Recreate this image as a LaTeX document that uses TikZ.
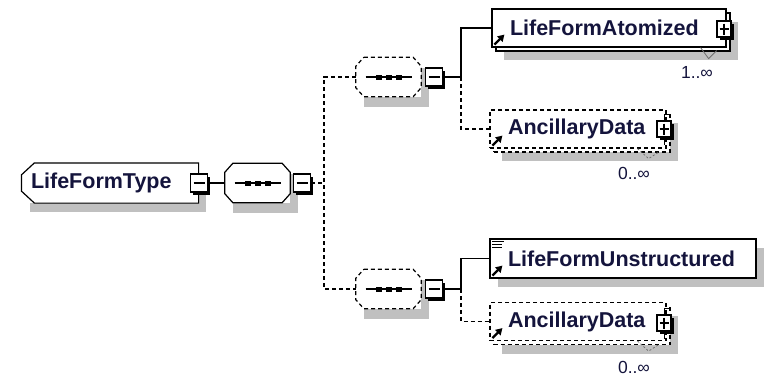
\documentclass[tikz,border=0pt]{standalone}
\usepackage{fontspec}
\setmainfont{Liberation Sans}
\usepackage{tikz}
\usetikzlibrary{positioning,shadows,arrows.meta}
\hyphenpenalty=10000
\definecolor{ink}{RGB}{20,20,60}
\definecolor{shade}{RGB}{192,192,192}
\definecolor{vmark}{RGB}{110,110,110}

% outline of a compositor: box with all four corners cut
\newcommand{\seqoutline}[2]{\draw[line width=1.2pt,#2] ([xshift=8pt]#1.north west) -- ([xshift=-8pt]#1.north east)
  -- ([yshift=-9pt]#1.north east) -- ([yshift=9pt]#1.south east) -- ([xshift=-8pt]#1.south east)
  -- ([xshift=8pt]#1.south west) -- ([yshift=9pt]#1.south west) -- ([yshift=-9pt]#1.north west) -- cycle;}

\tikzset{
  elem/.style={draw, fill=white, line width=1.2pt, inner xsep=18pt, inner ysep=0pt,
    minimum height=38pt, align=left, text=ink,
    font=\fontsize{21.5}{24}\selectfont\bfseries},
  oneshadow/.style={general shadow={fill=shade, shadow xshift=8pt, shadow yshift=-9pt}},
  twin/.style={general shadow={fill=shade, shadow xshift=12pt, shadow yshift=-13pt},
    general shadow={draw, fill=white, line width=1.2pt, shadow xshift=4pt, shadow yshift=-4pt, #1}},
  twin/.default={solid},
  opt/.style={dash pattern=on 4pt off 3pt},
  seqbox/.style={fill=white, minimum width=65pt, minimum height=39pt, inner sep=0pt,
    general shadow={fill=shade, shadow xshift=8pt, shadow yshift=-10pt},
    path picture={
      \draw[black, solid, line width=1.2pt] ([xshift=-23pt]path picture bounding box.center) -- ([xshift=23pt]path picture bounding box.center);
      \fill[black] ([xshift=-10pt]path picture bounding box.center) +(-3pt,-2.5pt) rectangle +(3pt,2.5pt);
      \fill[black] (path picture bounding box.center) +(-3pt,-2.5pt) rectangle +(3pt,2.5pt);
      \fill[black] ([xshift=10pt]path picture bounding box.center) +(-3pt,-2.5pt) rectangle +(3pt,2.5pt);
    }},
  minusbox/.style={draw, solid, fill=white, line width=1.2pt, minimum width=17pt, minimum height=18pt,
    inner sep=0pt, general shadow={fill=black, shadow xshift=2.5pt, shadow yshift=-2.5pt},
    path picture={\draw[line width=1.2pt] ([xshift=3pt]path picture bounding box.west) -- ([xshift=-3pt]path picture bounding box.east);}},
  plusbox/.style={draw, solid, fill=white, line width=1.2pt, minimum width=14pt, minimum height=16pt,
    inner sep=0pt, general shadow={fill=black, shadow xshift=2.5pt, shadow yshift=-2.5pt},
    path picture={\draw[line width=1.2pt] ([xshift=2.5pt]path picture bounding box.west) -- ([xshift=-2.5pt]path picture bounding box.east)
      ([yshift=-2.5pt]path picture bounding box.north) -- ([yshift=2.5pt]path picture bounding box.south);}},
  occurs/.style={text=ink, font=\fontsize{17.5}{20}\selectfont, inner sep=0pt},
  link/.style={line width=1.2pt},
  refarrow/.style={line width=2.2pt, -{Triangle[length=6.5pt,width=7.5pt]}}
}

\begin{document}
\begin{tikzpicture}[x=1pt,y=-1pt]
\useasboundingbox (0,0) rectangle (769,383);
% type and its sequence
\node[elem, draw=none, oneshadow, inner xsep=9pt, minimum width=176pt, minimum height=39pt, text width=158pt] (type) at (110,183) {LifeFormType};
\draw[line width=1.2pt] ([xshift=13pt]type.north west) -- (type.north east) -- (type.south east)
  -- ([xshift=13pt]type.south west) -- ([yshift=12pt]type.south west) -- ([yshift=-12pt]type.north west) -- cycle;
\node[minusbox] (tm) at (199,183) {};
\node[seqbox] (s0) at (257.5,183) {};
\seqoutline{s0}{}
\node[minusbox] (m0) at (302,183) {};

\node[seqbox] (s1) at (388.5,77) {};
\seqoutline{s1}{opt}
\node[minusbox] (m1) at (434,77) {};
\node[seqbox] (s2) at (388.5,289) {};
\seqoutline{s2}{opt}
\node[minusbox] (m2) at (434,289) {};

% elements
\node[elem, twin, minimum width=234pt, text width=198pt] (atom) at (609,28) {LifeFormAtomized};
\node[plusbox] (p0) at (724,29) {};
\node[elem, opt, twin=opt, minimum width=176pt, text width=140pt] (anc1) at (578,129) {AncillaryData};
\node[plusbox] (p1) at (664,129) {};
\node[elem, oneshadow, minimum width=266pt, minimum height=39pt, text width=230pt] (unstr) at (623,258.5) {LifeFormUnstructured};
\node[elem, opt, twin=opt, minimum width=176pt, text width=140pt] (anc2) at (578,321.5) {AncillaryData};
\node[plusbox] (p2) at (664,323) {};

\node[occurs] (atomocc) at (697,72) {1..∞};
\node[occurs] (anc1occ) at (634,173) {0..∞};
\node[occurs] (anc2occ) at (634,367) {0..∞};

\draw[refarrow] ([shift={(3,-3)}]atom.south west) -- ++(10,-10);
\draw[refarrow] ([shift={(3,-3)}]anc1.south west) -- ++(10,-10);
\draw[refarrow] ([shift={(3,-3)}]unstr.south west) -- ++(10,-10);
\draw[refarrow] ([shift={(3,-3)}]anc2.south west) -- ++(10,-10);
\draw[line width=1pt] ([shift={(3,3)}]unstr.north west) -- ++(12,0)
  ([shift={(3,6)}]unstr.north west) -- ++(10,0) ([shift={(3,9)}]unstr.north west) -- ++(10,0);

\draw[line width=1pt] (p1.north) -- ++(0,-6) -- ++(6,0) (p1.south) -- ++(0,7);
\draw[line width=1pt] (p2.north) -- ++(0,-6) -- ++(6,0) (p2.south) -- ++(0,7);
\draw[vmark, line width=0.8pt] ([shift={(-26,0)}]atom.south east) -- ++(8,11) -- ++(8,-8);
\draw[vmark, line width=0.8pt, dash pattern=on 2pt off 2pt] ([shift={(-29,0)}]anc1.south east) -- ++(11,10) -- ++(11,-7);
\draw[vmark, line width=0.8pt, dash pattern=on 2pt off 2pt] ([shift={(-29,0)}]anc2.south east) -- ++(11,10) -- ++(11,-7);

% connectors
\coordinate (j0) at (324,183);
\coordinate (j1) at (461,77);
\coordinate (j2) at (461,289);
\draw[link] (tm.east) -- (s0.west);
\draw[link, opt] (m0.east) -- (j0);
\draw[link, opt] (s1.west) -| (j0) |- (s2.west);
\draw[link] (m1.east) -- (j1) |- (atom.west);
\draw[link, opt] (j1) |- (anc1.west);
\draw[link] (m2.east) -- (j2) |- (unstr.west);
\draw[link, opt] (j2) |- (anc2.west);
\end{tikzpicture}
\end{document}
